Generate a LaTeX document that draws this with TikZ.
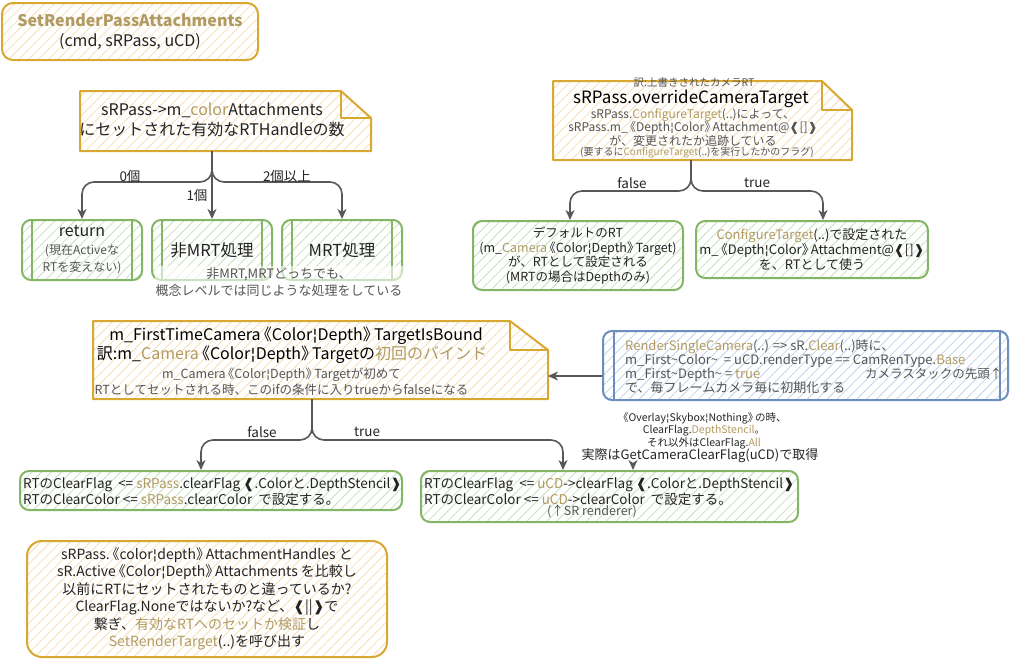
\documentclass[tikz,border=0pt]{standalone}
\usepackage{fontspec}
\setmainfont{Noto Sans CJK JP}
\newfontfamily\dvfont{DejaVu Sans}
\usetikzlibrary{arrows.meta,patterns.meta,calc}

\definecolor{goldc}{RGB}{216,168,50}
\definecolor{goldhatch}{RGB}{247,224,182}
\definecolor{greenc}{RGB}{130,182,100}
\definecolor{greenhatch}{RGB}{200,226,190}
\definecolor{bluec}{RGB}{108,142,191}
\definecolor{bluehatch}{RGB}{192,211,238}
\definecolor{hl}{RGB}{178,155,98}
\definecolor{txtgray}{RGB}{85,85,85}
\definecolor{txtdark}{RGB}{35,35,35}
\definecolor{arrowc}{RGB}{88,88,88}

% ornamental brackets, broken bar, tight double angle brackets, literal tilde
\newcommand\lbr{{\dvfont ❰}}
\newcommand\rbr{{\dvfont ❱}}
\newcommand\bb{{\dvfont ¦}}
\newcommand\dla{\kern-.3em《}
\newcommand\dra{》\kern-.3em}
\newcommand\tld{\char"7E\relax}

% outline of a note with a folded top-right corner, drawn around a body node
\newcommand\foldnote[3]{%
  \draw[goldnote] (#1.north west) -- ($(#1.north east)+(-#2,0)$)
     -- ($(#1.north east)+(0,#3)$) -- (#1.south east) -- (#1.south west) -- cycle;
  \draw[goldline] ($(#1.north east)+(-#2,0)$) -- ($(#1.north east)+(-#2,#3)$)
     -- ($(#1.north east)+(0,#3)$);}

\begin{document}
\begin{tikzpicture}[x=1pt,y=-1pt,
  hatch/.style={preaction={fill=white},
     pattern={Lines[angle=45,distance=7pt,line width=0.8pt]}},
  goldbox/.style={hatch, pattern color=goldhatch, draw=goldc, line width=2pt,
     rounded corners=11pt, text=txtdark},
  goldnote/.style={hatch, pattern color=goldhatch, draw=goldc, line width=2pt,
     line join=round},
  goldline/.style={draw=goldc, line width=1.6pt, line join=round},
  greenbox/.style={hatch, pattern color=greenhatch, draw=greenc, line width=2pt,
     rounded corners=9pt, text=txtdark},
  greenline/.style={draw=greenc, line width=1.6pt},
  bluebox/.style={hatch, pattern color=bluehatch, draw=bluec, line width=2pt,
     rounded corners=9pt},
  blueline/.style={draw=bluec, line width=1.6pt},
  body/.style={inner sep=0pt, outer sep=0pt},
  txt/.style={align=center, inner sep=0pt, text=txtdark},
  lbl/.style={inner sep=1pt, text=txtdark, font=\fontsize{13.5}{15}\selectfont},
  conn/.style={draw=arrowc, line width=1.6pt, rounded corners=12pt,
     -{Stealth[length=10pt,width=9pt,inset=3pt]}}]
\useasboundingbox (0,0) rectangle (1012,662);

% ---- entry point ----
\node[goldbox, minimum width=256pt, minimum height=57pt, align=center,
      font=\fontsize{16}{20}\selectfont] (title) at (130,31.5)
  {\textcolor{hl}{\bfseries SetRenderPassAttachments}\\(cmd, sRPass, uCD)};

% ---- number of valid colour attachments ----
\node[body, minimum width=291pt, minimum height=60pt] (q1) at (225.5,121) {};
\foldnote{q1}{30}{27}
\node[txt, font=\fontsize{16}{20}\selectfont] (q1t) at (212,120)
  {sRPass->m\_\textcolor{hl}{color}Attachments\\にセットされた有効なRTHandleの数};

\node[greenbox, minimum width=120pt, minimum height=60pt, align=center,
      font=\fontsize{12}{17}\selectfont] (ret) at (82,250)
  {{\fontsize{16}{16}\selectfont return}\\[1pt]\textcolor{txtgray}{(現在Activeな}\\\textcolor{txtgray}{RTを変えない)}};
\node[greenbox, minimum width=120pt, minimum height=60pt,
      font=\fontsize{16.5}{18}\selectfont] (nmrt) at (212,250) {非MRT処理};
\node[greenbox, minimum width=120pt, minimum height=60pt,
      font=\fontsize{16.5}{18}\selectfont] (mrt) at (342,250) {MRT処理};
\foreach \b in {ret,nmrt,mrt}{
  \draw[greenline] ([xshift=11pt]\b.north west) -- ([xshift=11pt]\b.south west);
  \draw[greenline] ([xshift=-11pt]\b.north east) -- ([xshift=-11pt]\b.south east);}

\node[txt, font=\fontsize{13}{17.7}\selectfont, text=txtgray, fill=white,
      fill opacity=0.6, text opacity=1, inner sep=1pt] (ovl) at (279,282)
  {非MRT,MRTどっちでも、\\概念レベルでは同じような処理をしている};

\draw[conn] (q1t |- q1.south) -- ++(0,31) -| (ret.north);
\draw[conn] (q1t |- q1.south) -- (q1t |- nmrt.north);
\draw[conn] (q1t |- q1.south) -- ++(0,31) -| (mrt.north);
\node[lbl] (l0) at (130,176) {0個};
\node[lbl] (l1) at (197,195) {1個};
\node[lbl] (l2) at (287,176) {2個以上};

% ---- overrideCameraTarget ----
\node[body, minimum width=299pt, minimum height=79pt] (ov) at (702.5,120.5) {};
\foldnote{ov}{30}{29}
\node[txt, font=\fontsize{10.5}{12}\selectfont, text=txtgray] (ovtr) at (694,83)
  {訳:上書きされたカメラRT};
\node[txt, font=\fontsize{17}{19}\selectfont, text=black] (ovn) at (691,98.5)
  {sRPass.overrideCameraTarget};
\node[txt, font=\fontsize{12}{13.7}\selectfont, text=txtgray] (ovd) at (693,127.3)
  {sRPass.\textcolor{hl}{ConfigureTarget}(..)によって、\\sRPass.m\_\dla Depth\bb Color\dra Attachment@\lbr[]\rbr\\が、変更されたか追跡している};
\node[txt, font=\fontsize{10}{12}\selectfont, text=txtgray] (ovs) at (697,152.7)
  {(要するに\textcolor{hl}{ConfigureTarget}(..)を実行したかのフラグ)};

\node[greenbox, minimum width=210pt, minimum height=69pt, align=center,
      font=\fontsize{12.5}{14.5}\selectfont] (dflt) at (578,255.5)
  {デフォルトのRT\\(m\_\textcolor{hl}{Camera}\dla Color\bb Depth\dra Target)\\が、RTとして設定される\\(MRTの場合はDepthのみ)};
\node[greenbox, minimum width=230pt, minimum height=57pt, align=center,
      font=\fontsize{13}{14.2}\selectfont] (cfg) at (812,249.5)
  {\textcolor{hl}{ConfigureTarget}(..)で設定された\\m\_\dla Depth\bb Color\dra Attachment@\lbr[]\rbr\\を、RTとして使う};

\draw[conn] (ovn |- ov.south) -- ++(0,31) -| ([xshift=-8pt]dflt.north);
\draw[conn] (ovn |- ov.south) -- ++(0,31) -| ([xshift=11pt]cfg.north);
\node[lbl] (lf1) at (632,183) {false};
\node[lbl] (lt1) at (757,183) {true};

% ---- first-time binding flag ----
\node[body, minimum width=455pt, minimum height=78pt] (mn) at (320.5,360) {};
\foldnote{mn}{38}{29}
\node[txt, font=\fontsize{16}{19}\selectfont, text=black] (mnt1) at (296,336)
  {m\_FirstTimeCamera\dla Color\bb Depth\dra TargetIsBound};
\node[txt, font=\fontsize{16}{19}\selectfont, text=black] (mnt2) at (292,355)
  {訳:m\_\textcolor{hl}{Camera}\dla Color\bb Depth\dra Targetの\textcolor{hl}{初回のバインド}};
\node[txt, font=\fontsize{12.5}{16}\selectfont, text=txtgray] (mnt3) at (281.5,382)
  {m\_Camera\dla Color\bb Depth\dra Targetが初めて\\RTとしてセットされる時、このifの条件に入りtrueからfalseになる};

% ---- per-frame reset ----
\node[bluebox, minimum width=405pt, minimum height=69pt] (blue) at (805.5,365.5) {};
\draw[blueline] ([xshift=12pt]blue.north west) -- ([xshift=12pt]blue.south west);
\draw[blueline] ([xshift=-9pt]blue.north east) -- ([xshift=-9pt]blue.south east);
\node[anchor=west, align=left, inner sep=0pt, text=txtgray,
      font=\fontsize{13}{14}\selectfont] (bluet) at (625,367)
  {\textcolor{hl}{RenderSingleCamera}(..) => sR.\textcolor{hl}{Clear}(..)時に、\\m\_First\tld Color\tld\ \ = uCD.renderType == CamRenType.\textcolor{hl}{Base}\\m\_First\tld Depth\tld{} = \textcolor{hl}{true}\\で、毎フレームカメラ毎に初期化する};
\node[anchor=west, inner sep=0pt, text=txtgray,
      font=\fontsize{12.5}{14}\selectfont] (stk) at (865,374) {カメラスタックの先頭↑};

\coordinate (bw) at ([yshift=-10.5pt]blue.west);
\draw[conn] (bw) -- (bw -| mn.east);

% ---- clear flags ----
\node[greenbox, minimum width=382pt, minimum height=39pt] (cl) at (211,490.5) {};
\node[anchor=west, align=left, inner sep=0pt, text=txtdark,
      font=\fontsize{13.5}{13.5}\selectfont] (clt) at (23,491.7)
  {RTのClearFlag\ \ <= \textcolor{hl}{sRPass}.clearFlag \lbr.Colorと.DepthStencil\rbr\\RTのClearColor <= \textcolor{hl}{sRPass}.clearColor\ \ で設定する。};

\node[greenbox, minimum width=377pt, minimum height=51pt] (cr) at (609.5,496.5) {};
\node[anchor=west, align=left, inner sep=0pt, text=txtdark,
      font=\fontsize{13.5}{13.5}\selectfont] (crt) at (424,491.7)
  {RTのClearFlag\ \ <= \textcolor{hl}{uCD}->clearFlag \lbr.Colorと.DepthStencil\rbr\\RTのClearColor <= \textcolor{hl}{uCD}->clearColor\ \ で設定する。};
\node[inner sep=0pt, text=txtgray, font=\fontsize{12.5}{14}\selectfont] (srr) at (592,511)
  {(↑SR renderer)};

\node[txt, font=\fontsize{10.5}{10.5}\selectfont] (cfn) at (704,431)
  {\dla Overlay\bb Skybox\bb Nothing\dra の時、\\ClearFlag.\textcolor{hl}{DepthStencil}。\\それ以外はClearFlag.\textcolor{hl}{All}};
\node[txt, font=\fontsize{13}{15}\selectfont] (cfget) at (700,456)
  {実際はGetCameraClearFlag(uCD)で取得};
\coordinate (cfs) at ([xshift=-67pt]cfget.south);
\draw[conn] (cfs) -- (cfs |- cr.north);

\coordinate (ms) at ([xshift=-8.5pt]mn.south);
\draw[conn] (ms) -- ++(0,41) -| ([xshift=-10pt]cl.north);
\draw[conn] (ms) -- ++(0,41) -| ([xshift=-46.5pt]cr.north);
\node[lbl] (lf2) at (262,432) {false};
\node[lbl] (lt2) at (367,432) {true};

% ---- final validation ----
\node[goldbox, rounded corners=15pt, minimum width=360pt, minimum height=116pt,
      align=center, font=\fontsize{14}{17.5}\selectfont] (bn) at (207,599)
  {sRPass.\dla color\bb depth\dra AttachmentHandles と\\sR.Active\dla Color\bb Depth\dra Attachments を比較し\\以前にRTにセットされたものと違っているか?\\ClearFlag.Noneではないか?など、\lbr||\rbr で\\繋ぎ、\textcolor{hl}{有効なRTへのセットか検証}し\\\textcolor{hl}{SetRenderTarget}(..)を呼び出す};
\end{tikzpicture}
\end{document}
